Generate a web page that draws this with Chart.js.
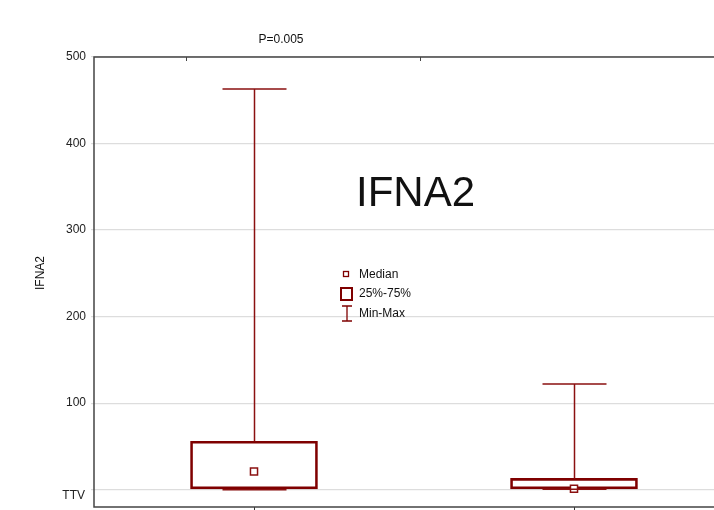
<!DOCTYPE html>
<html>
<head>
<meta charset="utf-8">
<script src="https://cdn.jsdelivr.net/npm/chart.js@4"></script>
<style>
	html, body { margin: 0; padding: 0; background: #fff; overflow: hidden; }
	#wrap { width: 714px; height: 510px; position: relative; }
</style>
</head>
<body>
<div id="wrap"><canvas id="box-chart" width="714" height="510"></canvas></div>
<script>
// group positions on the x scale (labels are not shown in the source)
const groups = [0.5, 1.5];
const mins = [0, 0.5];
const q1s = [1, 1];
const medians = [21, 1];
const q3s = [56, 13];
const maxs = [463, 122];

const yTicks = [0, 100, 200, 300, 400, 500];
const yTickLabels = ['', '100', '200', '300', '400', '500'];
const bottomLabel = 'TTV';

const legendItems = ['Median', '25%-75%', 'Min-Max'];
const pTitle = 'P=0.005';
const bigLabel = 'IFNA2';
const yTitle = 'IFNA2';

const RED = '#7f0000';
const FONT = '"Liberation Sans", Arial, sans-serif';

const whiskers = {
	id: 'whiskers',
	afterDatasetsDraw(chart) {
		const {ctx, scales: {x, y}} = chart;
		ctx.save();
		ctx.strokeStyle = '#8b1010';
		ctx.lineWidth = 1.5;
		groups.forEach((g, i) => {
			const cx = Math.round(x.getPixelForValue(g)) + 0.5;
			const half = 32;
			const yMax = y.getPixelForValue(maxs[i]);
			const yQ3 = y.getPixelForValue(q3s[i]);
			const yQ1 = y.getPixelForValue(q1s[i]);
			const yMin = y.getPixelForValue(mins[i]);
			ctx.beginPath();
			ctx.moveTo(cx, yQ3);
			ctx.lineTo(cx, yMax);
			ctx.moveTo(cx - half, yMax);
			ctx.lineTo(cx + half, yMax);
			ctx.moveTo(cx, yQ1);
			ctx.lineTo(cx, yMin);
			ctx.moveTo(cx - half, yMin);
			ctx.lineTo(cx + half, yMin);
			ctx.stroke();
		});
		ctx.restore();
	}
};

const decorations = {
	id: 'decorations',
	afterDraw(chart) {
		const {ctx, chartArea: a} = chart;
		ctx.save();
		// frame
		ctx.strokeStyle = '#444';
		ctx.lineWidth = 1.5;
		ctx.beginPath();
		ctx.moveTo(a.right + 2, a.top);
		ctx.lineTo(a.left, a.top);
		ctx.lineTo(a.left, a.bottom);
		ctx.lineTo(a.right + 2, a.bottom);
		ctx.stroke();
		// small top ticks
		ctx.lineWidth = 1;
		[186, 420].forEach(px => {
			ctx.beginPath();
			ctx.moveTo(px + 0.5, a.top);
			ctx.lineTo(px + 0.5, a.top + 4);
			ctx.stroke();
		});

		ctx.fillStyle = '#111';
		ctx.textBaseline = 'middle';
		ctx.textAlign = 'center';
		ctx.font = '12px ' + FONT;
		ctx.fillText(pTitle, a.left + 187, a.top - 17);

		ctx.textAlign = 'right';
		ctx.fillStyle = '#222';
		ctx.fillText(bottomLabel, a.left - 9, a.bottom - 11);

		ctx.fillStyle = '#111';
		ctx.textAlign = 'center';
		ctx.textBaseline = 'alphabetic';
		ctx.font = '42px ' + FONT;
		ctx.fillText(bigLabel, a.left + 321.5, a.top + 149);

		// legend
		ctx.textBaseline = 'middle';
		ctx.textAlign = 'left';
		ctx.font = '12px ' + FONT;
		const lx = a.left + 265;
		const ly = [a.top + 218, a.top + 237, a.top + 257];
		legendItems.forEach((t, i) => ctx.fillText(t, lx, ly[i]));
		ctx.strokeStyle = RED;
		ctx.lineWidth = 1.3;
		ctx.strokeRect(lx - 15.5, ly[0] - 3.5, 5, 5);
		ctx.lineWidth = 2;
		ctx.strokeRect(lx - 18, ly[1] - 6, 11, 12);
		ctx.lineWidth = 1.3;
		ctx.beginPath();
		ctx.moveTo(lx - 17, ly[2] - 8);
		ctx.lineTo(lx - 7, ly[2] - 8);
		ctx.moveTo(lx - 12, ly[2] - 8);
		ctx.lineTo(lx - 12, ly[2] + 7);
		ctx.moveTo(lx - 17, ly[2] + 7);
		ctx.lineTo(lx - 7, ly[2] + 7);
		ctx.stroke();

		// y axis title
		ctx.fillStyle = '#111';
		ctx.textAlign = 'center';
		ctx.translate(41, 273);
		ctx.rotate(-Math.PI / 2);
		ctx.fillText(yTitle, 0, 0);
		ctx.restore();
	}
};

window.onload = () => {
	const ctx = document.getElementById('box-chart').getContext('2d');
	new Chart(ctx, {
		type: 'bar',
		data: {
			datasets: [
				{
					label: '25%-75%',
					data: groups.map((g, i) => ({x: g, y: [q1s[i], q3s[i]]})),
					backgroundColor: 'rgba(0,0,0,0)',
					borderColor: RED,
					borderWidth: 2,
					borderSkipped: false,
					barThickness: 127,
					order: 2
				},
				{
					type: 'scatter',
					label: 'Median',
					data: groups.map((g, i) => ({x: g, y: medians[i]})),
					pointStyle: 'rect',
					pointRadius: 5,
					backgroundColor: '#fff',
					borderColor: '#8b1010',
					borderWidth: 1.5,
					order: 1
				}
			]
		},
		options: {
			responsive: false,
			animation: false,
			layout: {autoPadding: false, padding: {top: 57, right: 0, bottom: 0, left: 0}},
			plugins: {legend: {display: false}, tooltip: {enabled: false}},
			scales: {
				x: {
					type: 'linear',
					min: 0,
					max: 1.9375,
					offset: false,
					afterBuildTicks: s => { s.ticks = groups.map(v => ({value: v})); },
					afterFit: s => { s.height = 3; s.paddingLeft = 0; s.paddingRight = 0; },
					ticks: {display: false},
					grid: {display: true, offset: false, drawOnChartArea: false, tickLength: 3, color: '#333'},
					border: {display: false}
				},
				y: {
					min: -20,
					max: 500,
					afterBuildTicks: s => { s.ticks = yTicks.map(v => ({value: v})); },
					afterFit: s => { s.width = 94; s.paddingTop = 0; s.paddingBottom = 0; },
					ticks: {
						callback: (v) => yTickLabels[yTicks.indexOf(v)],
						color: '#222',
						padding: 5,
						font: {size: 12, family: FONT}
					},
					grid: {color: '#dddddd', tickLength: 3, lineWidth: 1.2},
					border: {display: false}
				}
			}
		},
		plugins: [whiskers, decorations]
	});
};
</script>
</body>
</html>
